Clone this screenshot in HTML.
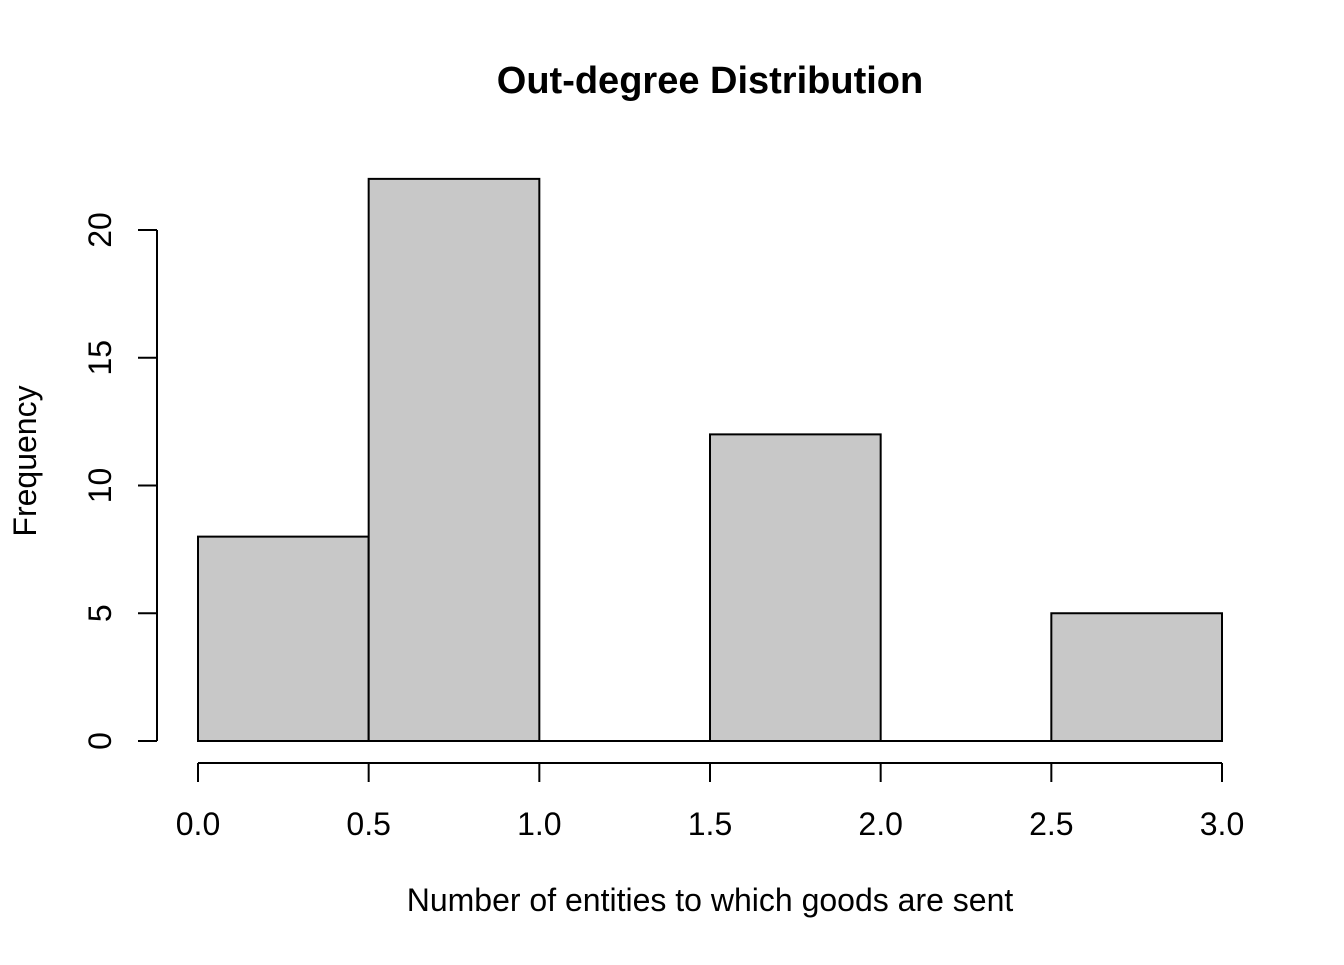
<!DOCTYPE html>
<html><head><meta charset="utf-8"><style>
body{margin:0;background:#fff}
svg text{font-family:"Liberation Sans",Arial,sans-serif;fill:#000}
</style></head><body>
<svg id="chart" width="1344" height="960" xmlns="http://www.w3.org/2000/svg">
<text x="710" y="93" text-anchor="middle" font-size="38" font-weight="bold">Out-degree Distribution</text>
<text x="710" y="911" text-anchor="middle" font-size="32">Number of entities to which goods are sent</text>
<text transform="translate(36,461) rotate(-90)" text-anchor="middle" font-size="32">Frequency</text>
<g id="bars"></g>
<g id="xaxis"></g>
<g id="yaxis"></g>
</svg>
<script>
const binStarts=[0,0.5,1.0,1.5,2.0,2.5];
const binWidth=0.5;
const counts=[8,22,0,12,0,5];
const xTicks=[0,0.5,1,1.5,2,2.5,3];
const xTickLabels=["0.0","0.5","1.0","1.5","2.0","2.5","3.0"];
const yTicks=[0,5,10,15,20];
const NS="http://www.w3.org/2000/svg";
const X=v=>198+v*(1222-198)/3;
const Y=v=>741-v*(741-230)/20;
function mk(tag,attrs,parent){const e=document.createElementNS(NS,tag);for(const k in attrs)e.setAttribute(k,attrs[k]);parent.appendChild(e);return e;}
const bars=document.getElementById('bars');
counts.forEach((c,i)=>{
 const x0=X(binStarts[i]),x1=X(binStarts[i]+binWidth),y=Y(c),y0=Y(0);
 const r=mk('path',{d:`M${x0},${y0}L${x0},${y}L${x1},${y}L${x1},${y0}Z`,fill:'#c8c8c8',stroke:'#000','stroke-width':2},bars);
 
 
});
const xa=document.getElementById('xaxis');
mk('line',{x1:X(xTicks[0]),x2:X(xTicks[xTicks.length-1]),y1:763,y2:763,stroke:'#000','stroke-width':2},xa);
xTicks.forEach((t,i)=>{
 mk('line',{x1:X(t),x2:X(t),y1:763,y2:782,stroke:'#000','stroke-width':2},xa);
 const tx=mk('text',{x:X(t),y:835,'text-anchor':'middle','font-size':32},xa);
 tx.textContent=xTickLabels[i];
 
 
});
const ya=document.getElementById('yaxis');
mk('line',{x1:157,x2:157,y1:Y(yTicks[0]),y2:Y(yTicks[yTicks.length-1]),stroke:'#000','stroke-width':2},ya);
yTicks.forEach(t=>{
 mk('line',{x1:138,x2:157,y1:Y(t),y2:Y(t),stroke:'#000','stroke-width':2},ya);
 const tx=mk('text',{transform:`translate(111,${Y(t)}) rotate(-90)`,'text-anchor':'middle','font-size':32},ya);
 tx.textContent=String(t);
 
 
});
</script>
</body></html>
